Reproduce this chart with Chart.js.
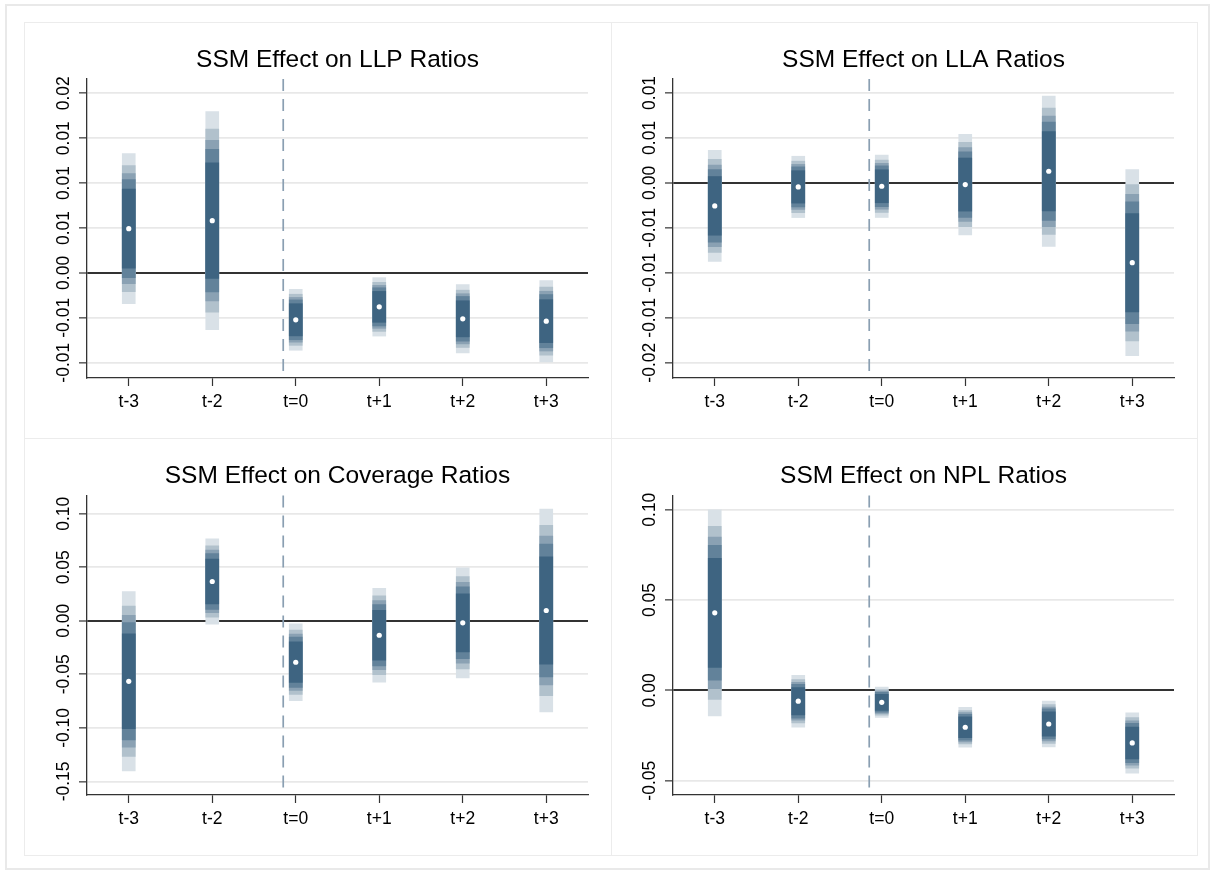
<!DOCTYPE html>
<html>
<head>
<meta charset="utf-8">
<script src="https://cdn.jsdelivr.net/npm/chart.js@4.4.1/dist/chart.umd.min.js"></script>
<style>
html,body{margin:0;padding:0;background:#fff;}
body{width:1215px;height:875px;position:relative;overflow:hidden;}
#frame{position:absolute;left:5px;top:4px;width:1205px;height:866px;border:2px solid #e9e9e9;box-sizing:border-box;}
.box{position:absolute;border:1px solid #ececec;box-sizing:border-box;}
canvas{position:absolute;}
</style>
</head>
<body>
<div id="frame"></div>
<div class="box" style="left:24px;top:22px;width:588px;height:417px;"></div>
<div class="box" style="left:611px;top:22px;width:587px;height:417px;"></div>
<div class="box" style="left:24px;top:438px;width:588px;height:418px;"></div>
<div class="box" style="left:611px;top:438px;width:587px;height:418px;"></div>
<canvas id="c1" width="587" height="416" style="left:24px;top:22px;"></canvas>
<canvas id="c2" width="587" height="416" style="left:610px;top:22px;"></canvas>
<canvas id="c3" width="587" height="417" style="left:24px;top:438px;"></canvas>
<canvas id="c4" width="587" height="417" style="left:610px;top:438px;"></canvas>
<script>
// ---- data ----
const categories = ['t-3', 't-2', 't=0', 't+1', 't+2', 't+3'];
const ciLevels = [70, 80, 85, 90, 95];
const zScores = [1.036, 1.282, 1.440, 1.645, 1.960];
const bandColors = ['#3e6481', '#62829a', '#8aa1b3', '#b1c1cc', '#d9e1e7'];
const treatmentLine = 1.85; // dashed line between t-2 and t=0

const llpCoef = [0.00493, 0.00582, -0.00522, -0.00378, -0.00511, -0.00537];
const llpSE   = [0.00426, 0.00620, 0.00173, 0.00166, 0.00194, 0.00231];
const llaCoef = [-0.00256, -0.00045, -0.00038, -0.00019, 0.00129, -0.00888];
const llaSE   = [0.00315, 0.00174, 0.00177, 0.00285, 0.00427, 0.00528];
const covCoef = [-0.0565, 0.0367, -0.0387, -0.0135, -0.0019, 0.0096];
const covSE   = [0.0427, 0.0203, 0.0183, 0.0224, 0.0262, 0.0483];
const nplCoef = [0.0429, -0.0060, -0.0066, -0.0204, -0.0186, -0.0291];
const nplSE   = [0.0291, 0.0073, 0.0043, 0.0056, 0.0065, 0.0085];

const llpTicks = [0.02, 0.015, 0.01, 0.005, 0, -0.005, -0.01];
const llpTickLabels = ['0.02', '0.01', '0.01', '0.01', '0.00', '-0.01', '-0.01'];
const llaTicks = [0.01, 0.005, 0, -0.005, -0.01, -0.015, -0.02];
const llaTickLabels = ['0.01', '0.01', '0.00', '-0.01', '-0.01', '-0.01', '-0.02'];
const covTicks = [0.10, 0.05, 0, -0.05, -0.10, -0.15];
const covTickLabels = ['0.10', '0.05', '0.00', '-0.05', '-0.10', '-0.15'];
const nplTicks = [0.10, 0.05, 0, -0.05];
const nplTickLabels = ['0.10', '0.05', '0.00', '-0.05'];

const llpRange = [-0.0117, 0.0216];
const llaRange = [-0.0217, 0.01156];
const covRange = [-0.1627, 0.1171];
const nplRange = [-0.0579, 0.1079];

const titles = ['SSM Effect on LLP Ratios', 'SSM Effect on LLA Ratios',
                'SSM Effect on Coverage Ratios', 'SSM Effect on NPL Ratios'];

// ---- drawing ----
Chart.defaults.font.family = '"Liberation Sans", Arial, sans-serif';
Chart.defaults.color = '#000';

const eventLinePlugin = {
  id: 'eventLine',
  beforeDatasetsDraw(chart) {
    const ctx = chart.ctx;
    const x = chart.scales.x.getPixelForValue(treatmentLine);
    const {top, bottom} = chart.chartArea;
    ctx.save();
    ctx.strokeStyle = '#8a9fb2';
    ctx.lineWidth = 1.7;
    ctx.setLineDash([12, 8]);
    ctx.beginPath();
    ctx.moveTo(x, top);
    ctx.lineTo(x, bottom);
    ctx.stroke();
    ctx.restore();
  }
};

function makePanel(id, title, coef, se, ticks, tickLabels, range, topPad) {
  const datasets = [{
    type: 'line', data: coef, showLine: false,
    pointRadius: 2.6, pointHoverRadius: 2.6, pointStyle: 'circle',
    pointBackgroundColor: '#ffffff', pointBorderWidth: 0, order: 0
  }];
  zScores.forEach((z, k) => {
    datasets.push({
      type: 'bar', label: ciLevels[k] + '%',
      data: coef.map((c, i) => [c - z * se[i], c + z * se[i]]),
      backgroundColor: bandColors[k], borderWidth: 0,
      barThickness: 13, grouped: false, order: k + 1
    });
  });
  new Chart(document.getElementById(id), {
    type: 'bar',
    data: {labels: categories, datasets},
    plugins: [eventLinePlugin],
    options: {
      responsive: false, animation: false, devicePixelRatio: 1,
      layout: {padding: {left: 0, right: 23, top: 0, bottom: 0}},
      plugins: {
        legend: {display: false}, tooltip: {enabled: false},
        title: {display: true, text: title, fullSize: false, color: '#000',
          font: {size: 24.5, weight: 'normal'}, padding: {top: topPad, bottom: 4}}
      },
      scales: {
        x: {
          type: 'category', offset: true,
          grid: {display: true, offset: false, drawOnChartArea: false, drawTicks: true,
                 tickLength: 8, tickColor: '#333', tickWidth: 1.2},
          border: {display: true, color: '#333', width: 1.3},
          ticks: {color: '#000', font: {size: 17.5}, padding: 6,
                  minRotation: 0, maxRotation: 0, autoSkip: false},
          afterFit(s) { s.height = 60; }
        },
        y: {
          type: 'linear', min: range[0], max: range[1],
          afterBuildTicks(s) { s.ticks = ticks.map(v => ({value: v})); },
          grid: {
            color: c => (c.tick && c.tick.value === 0) ? '#333333' : '#e8e8e8',
            lineWidth: c => (c.tick && c.tick.value === 0) ? 2 : 1.7,
            tickColor: '#333', tickLength: 8, tickWidth: 1.2
          },
          border: {display: true, color: '#333', width: 1.3},
          ticks: {color: '#000', font: {size: 17.5}, minRotation: 90, maxRotation: 90,
                  crossAlign: 'center', padding: -5, autoSkip: false,
                  callback: (v, i) => tickLabels[i]},
          afterFit(s) { s.width = 63; }
        }
      }
    }
  });
}

makePanel('c1', titles[0], llpCoef, llpSE, llpTicks, llpTickLabels, llpRange, 23.5);
makePanel('c2', titles[1], llaCoef, llaSE, llaTicks, llaTickLabels, llaRange, 23.5);
makePanel('c3', titles[2], covCoef, covSE, covTicks, covTickLabels, covRange, 24);
makePanel('c4', titles[3], nplCoef, nplSE, nplTicks, nplTickLabels, nplRange, 24);
</script>
</body>
</html>
